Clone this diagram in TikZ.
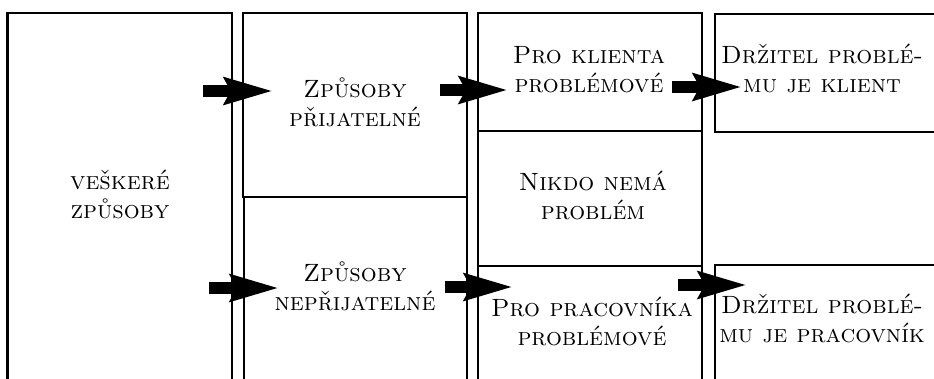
\documentclass[tikz,border=0pt]{standalone}
\usepackage{fontspec}
\usetikzlibrary{arrows.meta}
\newcommand{\cellsc}[2]{\begin{tabular}[t]{@{}c@{}}#1\\#2\end{tabular}}
\begin{document}
\begin{tikzpicture}[x=1pt,y=-1pt,
  cell/.style={draw, line width=2.8pt, rectangle, inner sep=0pt, outer sep=0pt, anchor=north west},
  caption/.style={anchor=base, inner sep=0pt, font=\fontsize{25}{29.5}\selectfont\scshape},
  flow/.style={line width=11.5pt, -{Stealth[length=48pt, width=26pt, inset=6pt]}}]
\useasboundingbox (0,0) rectangle (934,378);
\clip (0,0) rectangle (934,378);

% boxes (open towards the bottom and right margin)
\node[cell, minimum width=224.5pt, minimum height=380pt] (all)   at (7.5,13)  {};
\node[cell, minimum width=224pt,   minimum height=184pt] (acc)   at (243,13)  {};
\node[cell, minimum width=223pt,   minimum height=200pt] (unacc) at (244,197) {};
\node[cell, minimum width=224pt,   minimum height=118pt] (cl)    at (478,13)  {};
\node[cell, minimum width=224pt,   minimum height=135pt] (none)  at (478,131) {};
\node[cell, minimum width=224pt,   minimum height=130pt] (wk)    at (478,266) {};
\node[cell, minimum width=240pt,   minimum height=118pt] (hcl)   at (715,14)  {};
\node[cell, minimum width=240pt,   minimum height=130pt] (hwk)   at (715,265) {};

% labels
\node[caption] (tall)   at (120,189) {\cellsc{veškeré}{způsoby}};
\node[caption] (tacc)   at (355,97)  {\cellsc{Způsoby}{přijatelné}};
\node[caption] (tunacc) at (355,281) {\cellsc{Způsoby}{nepřijatelné}};
\node[caption] (tcl)    at (589,63)  {\cellsc{Pro klienta}{problémové}};
\node[caption] (tnone)  at (593,190) {\cellsc{Nikdo nemá}{problém}};
\node[caption] (twk)    at (592,316) {\cellsc{Pro pracovníka}{problémové}};
\node[caption] (thcl)   at (822,63)  {\cellsc{Držitel problé-}{mu je klient}};
\node[caption] (thwk)   at (822,313) {\cellsc{Držitel problé-}{mu je pracovník}};

% arrow end points
\coordinate (a1s) at (203,91);  \coordinate (a1e) at (273,91);
\coordinate (a2s) at (440,90);  \coordinate (a2e) at (508,90);
\coordinate (a3s) at (672,87);  \coordinate (a3e) at (742,87);
\coordinate (a4s) at (209,288); \coordinate (a4e) at (279,288);
\coordinate (a5s) at (445,287); \coordinate (a5e) at (513,287);
\coordinate (a6s) at (678,285); \coordinate (a6e) at (747,285);

\draw[flow] (a1s) -- (a1e);
\draw[flow] (a2s) -- (a2e);
\draw[flow] (a3s) -- (a3e);
\draw[flow] (a4s) -- (a4e);
\draw[flow] (a5s) -- (a5e);
\draw[flow] (a6s) -- (a6e);
\end{tikzpicture}
\end{document}
